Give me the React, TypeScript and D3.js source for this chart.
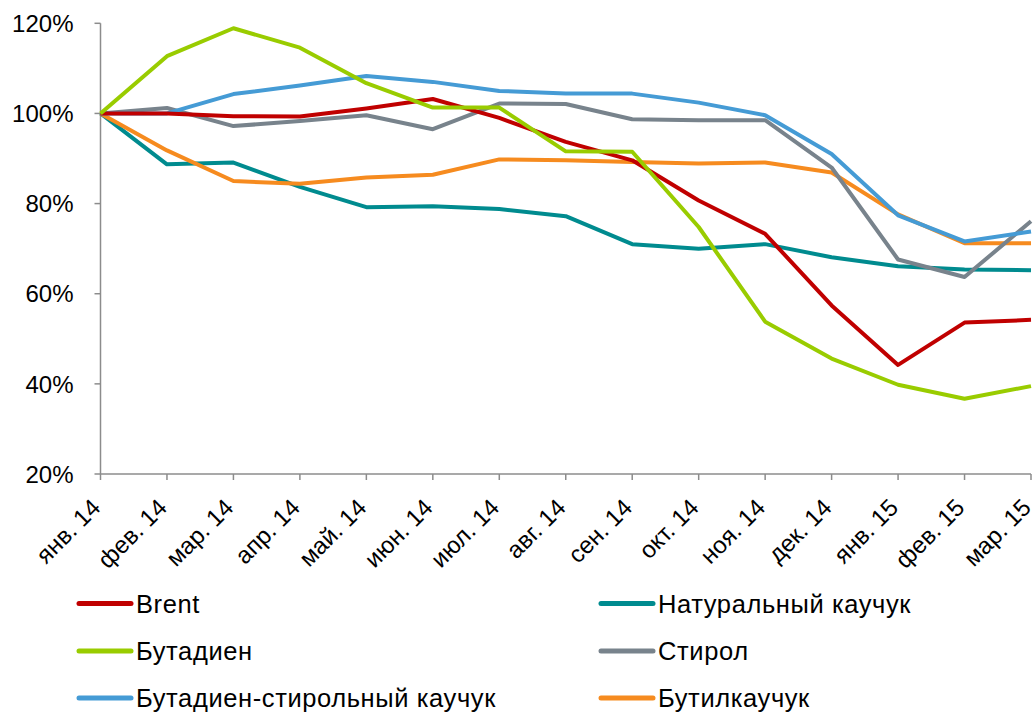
import React, { useEffect, useRef } from "react";
import * as d3 from "d3";

const categories = ["янв. 14","фев. 14","мар. 14","апр. 14","май. 14","июн. 14","июл. 14","авг. 14","сен. 14","окт. 14","ноя. 14","дек. 14","янв. 15","фев. 15","мар. 15"];
const brent = [100,100,99.4,99.3,101.1,103.2,99.0,93.7,89.6,80.7,73.3,57.4,44.2,53.6,54.2];
const natural = [100,88.7,89.1,83.7,79.2,79.4,78.8,77.2,71.0,70.0,71.0,68.1,66.1,65.4,65.2];
const butadiene = [100,112.7,118.9,114.6,106.7,101.3,101.3,91.6,91.5,74.8,53.8,45.6,39.8,36.7,39.5];
const styrene = [100,101.2,97.2,98.3,99.6,96.5,102.2,102.1,98.7,98.5,98.5,88.0,67.6,63.7,76.1];
const sbr = [100,100,104.3,106.2,108.3,107.0,105.0,104.4,104.4,102.4,99.6,91.0,77.4,71.6,73.8];
const butyl = [100,91.8,85.0,84.4,85.8,86.4,89.8,89.6,89.2,88.9,89.1,86.9,77.6,71.2,71.2];
const yTicks = [20,40,60,80,100,120];

const seriesNames = ["Brent","Натуральный каучук","Бутадиен","Стирол","Бутадиен-стирольный каучук","Бутилкаучук"];
const seriesValues = [brent, natural, butadiene, styrene, sbr, butyl];
const seriesColors = ["#C00000","#008B8F","#99CC00","#78838C","#459BD5","#F68B1F"];
const drawOrder = [1,5,3,4,0,2];

export default function App() {
  const ref = useRef<SVGSVGElement>(null);
  useEffect(() => {
    const svg = d3.select(ref.current);
    svg.selectAll("*").remove();
    const font = "Liberation Sans, Arial, sans-serif";
    const x = d3.scalePoint<string>().domain(categories).range([100.5, 1031]);
    const y = d3.scaleLinear().domain([20, 120]).range([474, 23.3]);
    const axisColor = "#8C8C8C";

    // y axis
    const ya = svg.append("g").attr("transform", "translate(100.5,0)");
    ya.append("line").attr("y1", y(120)).attr("y2", y(20)).attr("stroke", axisColor).attr("stroke-width", 1.5);
    yTicks.forEach(t => {
      ya.append("line").attr("x1", -6).attr("x2", 0).attr("y1", y(t)).attr("y2", y(t)).attr("stroke", axisColor).attr("stroke-width", 1.5);
      ya.append("text").attr("x", -27).attr("y", y(t)).attr("dy", "0.36em").attr("text-anchor", "end")
        .attr("font-family", font).attr("font-size", 24).attr("fill", "#000").text(t + "%");
    });

    // x axis
    const xa = svg.append("g");
    xa.append("line").attr("x1", x(categories[0])!).attr("x2", x(categories[categories.length-1])!)
      .attr("y1", y(20)).attr("y2", y(20)).attr("stroke", axisColor).attr("stroke-width", 1.5);
    categories.forEach(c => {
      const cx = x(c)!;
      xa.append("line").attr("x1", cx).attr("x2", cx).attr("y1", y(20)).attr("y2", y(20) + 6).attr("stroke", axisColor).attr("stroke-width", 1.5);
      xa.append("text").attr("transform", `translate(${cx + 1.5},${y(20) + 35}) rotate(-45)`)
        .attr("text-anchor", "end")
        .attr("font-family", font).attr("font-size", 24).attr("fill", "#000").text(c);
    });

    const line = d3.line<number>().x((_, i) => x(categories[i])!).y(v => y(v));
    drawOrder.forEach(i => {
      svg.append("path").datum(seriesValues[i]).attr("d", line).attr("fill", "none")
        .attr("stroke", seriesColors[i]).attr("stroke-width", 4).attr("stroke-linejoin", "round");
    });

    // legend
    const colX = [79, 601];
    const rowY = [603.5, 651, 698];
    seriesNames.forEach((n, i) => {
      const lx = colX[i % 2];
      const ly = rowY[Math.floor(i / 2)];
      svg.append("line").attr("x1", lx).attr("x2", lx + 52).attr("y1", ly).attr("y2", ly)
        .attr("stroke", seriesColors[i]).attr("stroke-width", 5).attr("stroke-linecap", "round");
      svg.append("text").attr("x", lx + 57).attr("y", ly).attr("dy", "0.36em")
        .attr("font-family", font).attr("font-size", 25.5).attr("letter-spacing", 0.6).attr("fill", "#000").text(n);
    });
  }, []);
  return <svg ref={ref} width={1036} height={714} style={{ position: "absolute", left: 0, top: 0, background: "#fff" }} />;
}
